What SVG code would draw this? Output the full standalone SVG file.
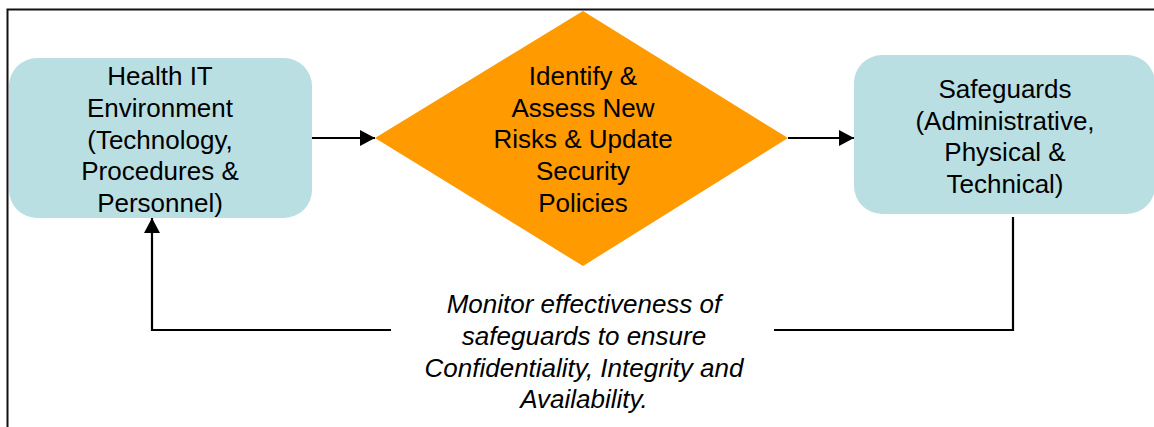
<svg xmlns="http://www.w3.org/2000/svg" width="1154" height="427" viewBox="0 0 1154 427">
<style>
.box{fill:#B9DFE3;}
.dia{fill:#FF9A00;}
.t{font-family:"Liberation Sans",Arial,sans-serif;font-size:26px;fill:#000;text-anchor:middle;}
.it{font-style:italic;}
.ln{fill:none;stroke:#000;stroke-width:2.2;}
.frame{fill:none;stroke:#111;stroke-width:2;}
</style>
<defs>
<marker id="ah" markerWidth="16" markerHeight="16" refX="15" refY="8" orient="auto" markerUnits="userSpaceOnUse">
<path d="M0,0 L15,8 L0,16 Z" fill="#000"/>
</marker>
</defs>
<rect class="frame" x="7.5" y="9.5" width="1160" height="430"/>
<g id="node-env">
<rect class="box" x="9" y="58" width="303" height="160" rx="28" ry="28"/>
<text class="t" x="160" y="85">Health IT</text>
<text class="t" x="160" y="117">Environment</text>
<text class="t" x="160" y="149">(Technology,</text>
<text class="t" x="160" y="180">Procedures &amp;</text>
<text class="t" x="160" y="212">Personnel)</text>
</g>
<g id="node-assess">
<polygon class="dia" points="583,11 788,138 583,266 375,138"/>
<text class="t" x="583" y="85">Identify &amp;</text>
<text class="t" x="583" y="117">Assess New</text>
<text class="t" x="583" y="148">Risks &amp; Update</text>
<text class="t" x="583" y="180">Security</text>
<text class="t" x="583" y="212">Policies</text>
</g>
<g id="node-safeguards">
<rect class="box" x="854" y="55" width="301" height="159" rx="28" ry="28"/>
<text class="t" x="1005" y="98">Safeguards</text>
<text class="t" x="1005" y="130">(Administrative,</text>
<text class="t" x="1005" y="161">Physical &amp;</text>
<text class="t" x="1005" y="193">Technical)</text>
</g>
<g id="label-monitor">
<text class="t it" x="584" y="313">Monitor effectiveness of</text>
<text class="t it" x="584" y="345">safeguards to ensure</text>
<text class="t it" x="584" y="377">Confidentiality, Integrity and</text>
<text class="t it" x="584" y="408">Availability.</text>
</g>
<g id="connectors">
<line class="ln" x1="312" y1="138" x2="375" y2="138" marker-end="url(#ah)"/>
<line class="ln" x1="788" y1="138" x2="854" y2="138" marker-end="url(#ah)"/>
<polyline class="ln" points="1013,217 1013,330 774,330"/>
<polyline class="ln" points="391,330 152,330 152,218" marker-end="url(#ah)"/>
</g>
</svg>
